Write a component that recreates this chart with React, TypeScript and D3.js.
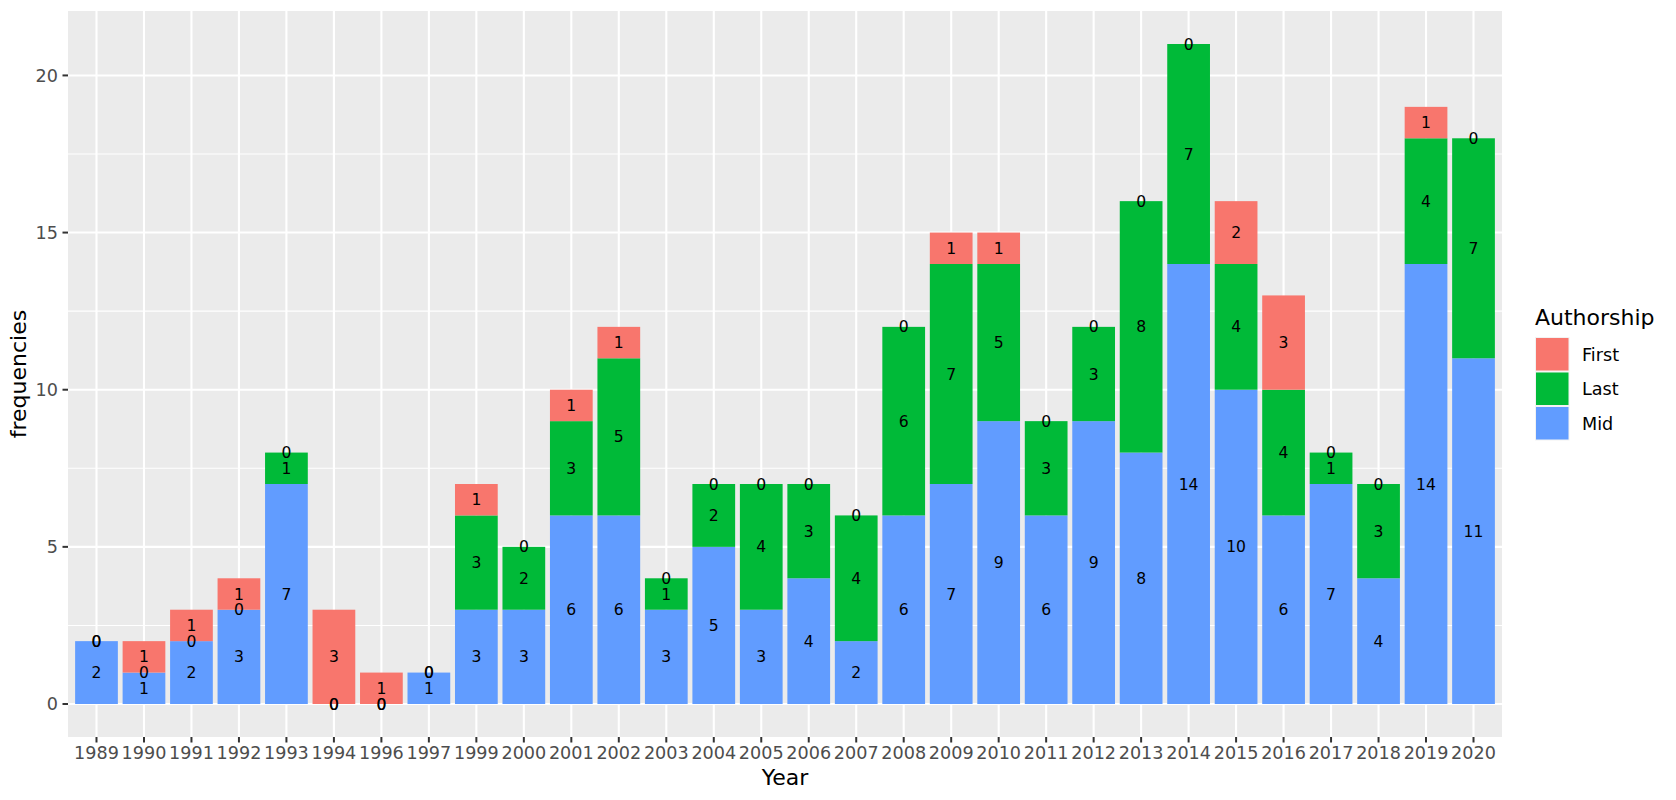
import { useRef, useEffect } from 'react'
import * as d3 from 'd3'

const years = ['1989', '1990', '1991', '1992', '1993', '1994', '1996', '1997', '1999', '2000',
  '2001', '2002', '2003', '2004', '2005', '2006', '2007', '2008', '2009', '2010',
  '2011', '2012', '2013', '2014', '2015', '2016', '2017', '2018', '2019', '2020']

const midCounts = [2, 1, 2, 3, 7, 0, 0, 1, 3, 3, 6, 6, 3, 5, 3, 4, 2, 6, 7, 9, 6, 9, 8, 14, 10, 6, 7, 4, 14, 11]
const lastCounts = [0, 0, 0, 0, 1, 0, 0, 0, 3, 2, 3, 5, 1, 2, 4, 3, 4, 6, 7, 5, 3, 3, 8, 7, 4, 4, 1, 3, 4, 7]
const firstCounts = [0, 1, 1, 1, 0, 3, 1, 0, 1, 0, 1, 1, 0, 0, 0, 0, 0, 0, 1, 1, 0, 0, 0, 0, 2, 3, 0, 0, 1, 0]

// stacking order bottom -> top
const groups = ['Mid', 'Last', 'First']
const legendOrder = ['First', 'Last', 'Mid']
const colors: Record<string, string> = { First: '#F8766D', Last: '#00BA38', Mid: '#619CFF' }
const yTicks = [0, 5, 10, 15, 20]
const yMinor = [2.5, 7.5, 12.5, 17.5]

const FONT = '"DejaVu Sans", sans-serif'

function App() {
  const ref = useRef<SVGSVGElement>(null)

  useEffect(() => {
    if (!ref.current) return
    const svg = d3.select(ref.current)
    svg.selectAll('*').remove()

    const width = 1676
    const height = 800
    const panel = { left: 68, right: 1502, top: 11, bottom: 737 }

    const series: Record<string, number[]> = { Mid: midCounts, Last: lastCounts, First: firstCounts }
    const rows = years.map((y, i) => ({ year: y, Mid: midCounts[i], Last: lastCounts[i], First: firstCounts[i] }))
    const stacked = d3.stack<any>().keys(groups)(rows)

    const maxTotal = d3.max(rows, r => r.Mid + r.Last + r.First) as number
    const pad = maxTotal * 0.05

    const x = d3.scaleBand()
      .domain(years)
      .range([panel.left, panel.right])
      .paddingInner(0.1)
      .paddingOuter(0.55)
    // centre positions like ggplot discrete scale (0.6 expand)
    const step = (panel.right - panel.left) / (years.length - 1 + 1.2)
    const cx = (i: number) => panel.left + step * (0.6 + i)
    const barW = step * 0.9

    const y = d3.scaleLinear()
      .domain([-pad, maxTotal + pad])
      .range([panel.bottom, panel.top])

    svg.append('rect')
      .attr('width', width).attr('height', height).attr('fill', '#ffffff')

    svg.append('rect')
      .attr('x', panel.left).attr('y', panel.top)
      .attr('width', panel.right - panel.left).attr('height', panel.bottom - panel.top)
      .attr('fill', '#EBEBEB')

    // minor grid
    svg.append('g').selectAll('line').data(yMinor).enter().append('line')
      .attr('x1', panel.left).attr('x2', panel.right)
      .attr('y1', d => y(d)).attr('y2', d => y(d))
      .attr('stroke', '#ffffff').attr('stroke-width', 1.1)

    // major grid
    svg.append('g').selectAll('line').data(yTicks).enter().append('line')
      .attr('x1', panel.left).attr('x2', panel.right)
      .attr('y1', d => y(d)).attr('y2', d => y(d))
      .attr('stroke', '#ffffff').attr('stroke-width', 2.1)

    svg.append('g').selectAll('line').data(years).enter().append('line')
      .attr('x1', (_, i) => cx(i)).attr('x2', (_, i) => cx(i))
      .attr('y1', panel.top).attr('y2', panel.bottom)
      .attr('stroke', '#ffffff').attr('stroke-width', 2.1)

    // bars
    stacked.forEach(layer => {
      svg.append('g').selectAll('rect').data(layer).enter().append('rect')
        .attr('x', (_, i) => cx(i) - barW / 2)
        .attr('width', barW)
        .attr('y', d => y(d[1]))
        .attr('height', d => y(d[0]) - y(d[1]))
        .attr('fill', colors[layer.key])
    })

    // labels centred in each segment
    stacked.forEach(layer => {
      svg.append('g').selectAll('text').data(layer).enter().append('text')
        .attr('x', (_, i) => cx(i))
        .attr('y', d => y((d[0] + d[1]) / 2))
        .attr('dy', '0.36em')
        .attr('text-anchor', 'middle')
        .attr('font-family', FONT)
        .attr('font-size', 15.6)
        .attr('fill', '#000000')
        .text((_, i) => series[layer.key][i])
    })

    // x axis ticks + labels
    const xa = svg.append('g')
    years.forEach((yr, i) => {
      xa.append('line')
        .attr('x1', cx(i)).attr('x2', cx(i))
        .attr('y1', panel.bottom).attr('y2', panel.bottom + 5.5)
        .attr('stroke', '#333333').attr('stroke-width', 2)
      xa.append('text')
        .attr('x', cx(i)).attr('y', 759)
        .attr('text-anchor', 'middle')
        .attr('font-family', FONT).attr('font-size', 17.6)
        .attr('fill', '#4D4D4D')
        .text(yr)
    })

    // y axis ticks + labels
    const ya = svg.append('g')
    yTicks.forEach(t => {
      ya.append('line')
        .attr('x1', panel.left - 5.5).attr('x2', panel.left)
        .attr('y1', y(t)).attr('y2', y(t))
        .attr('stroke', '#333333').attr('stroke-width', 2)
      ya.append('text')
        .attr('x', 58).attr('y', y(t))
        .attr('dy', '0.36em')
        .attr('text-anchor', 'end')
        .attr('font-family', FONT).attr('font-size', 17.6)
        .attr('fill', '#4D4D4D')
        .text(t)
    })

    // axis titles
    svg.append('text')
      .attr('x', (panel.left + panel.right) / 2).attr('y', 785)
      .attr('text-anchor', 'middle')
      .attr('font-family', FONT).attr('font-size', 22)
      .attr('fill', '#000000')
      .text('Year')

    svg.append('text')
      .attr('transform', `translate(26,${(panel.top + panel.bottom) / 2}) rotate(-90)`)
      .attr('text-anchor', 'middle')
      .attr('font-family', FONT).attr('font-size', 22)
      .attr('fill', '#000000')
      .text('frequencies')

    // legend
    const lg = svg.append('g')
    lg.append('text')
      .attr('x', 1535).attr('y', 325)
      .attr('font-family', FONT).attr('font-size', 22)
      .attr('fill', '#000000')
      .text('Authorship')
    const keySize = 34.5
    legendOrder.forEach((g, i) => {
      const ky = 337 + i * keySize
      lg.append('rect')
        .attr('x', 1535).attr('y', ky)
        .attr('width', keySize).attr('height', keySize)
        .attr('fill', '#F2F2F2')
      lg.append('rect')
        .attr('x', 1536).attr('y', ky + 1)
        .attr('width', keySize - 2).attr('height', keySize - 2)
        .attr('fill', colors[g])
      lg.append('text')
        .attr('x', 1582).attr('y', ky + keySize / 2)
        .attr('dy', '0.36em')
        .attr('font-family', FONT).attr('font-size', 17.6)
        .attr('fill', '#000000')
        .text(g)
    })

    void x
  }, [])

  return <svg ref={ref} width={1676} height={800} style={{ display: 'block', margin: '-8px' }} />
}

export default App
